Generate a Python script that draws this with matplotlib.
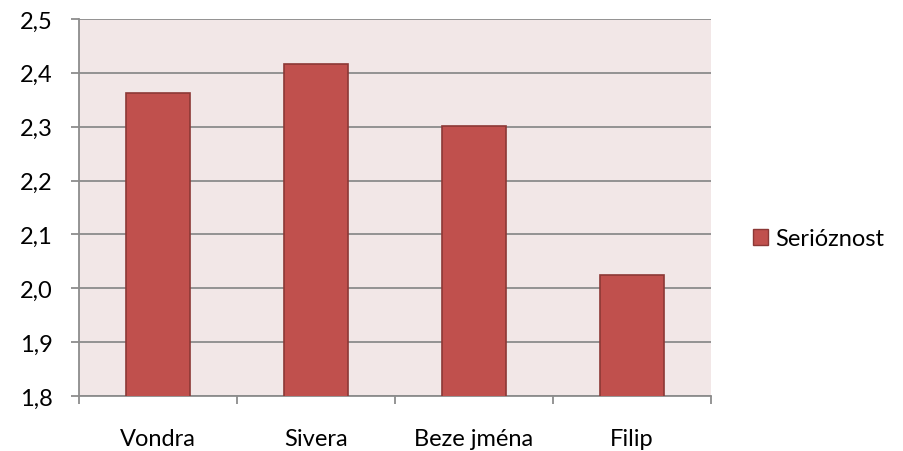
import matplotlib.pyplot as plt
from matplotlib.patches import Patch

categories = ["Vondra", "Sivera", "Beze jména", "Filip"]
values = [2.362, 2.417, 2.302, 2.024]
series_name = "Serióznost"
y_ticks = [1.8, 1.9, 2.0, 2.1, 2.2, 2.3, 2.4, 2.5]

plt.rcParams['font.family'] = ['Lato', 'DejaVu Sans']

fig = plt.figure(figsize=(9.04, 4.52), dpi=100)
ax = fig.add_axes([0.0874, 0.1217, 0.6991, 0.8341])
ax.set_facecolor('#F2E7E7')

x = range(len(categories))
ax.bar(x, values, width=0.4, color='#C0504D', edgecolor='#8C3836',
       linewidth=1.2, zorder=3)
ax.set_ylim(1.8, 2.5)
ax.set_xlim(-0.5, len(categories) - 0.5)

ax.set_yticks(y_ticks)
ax.set_yticklabels([f"{t:.1f}".replace('.', ',') for t in y_ticks], fontsize=17)
ax.yaxis.grid(True, color='#8C8C8C', linewidth=1.3, zorder=0)
ax.set_axisbelow(True)

ax.set_xticks([i - 0.5 for i in range(len(categories) + 1)])
ax.set_xticklabels([])
ax.set_xticks(list(x), minor=True)
ax.set_xticklabels(categories, minor=True, fontsize=17)
ax.tick_params(axis='x', which='minor', length=0, pad=23)
ax.tick_params(axis='x', which='major', length=6, color='#8C8C8C', width=1.3)
ax.tick_params(axis='y', length=6, color='#8C8C8C', width=1.3, pad=13)

for s in ['top', 'right']:
    ax.spines[s].set_visible(False)
for s in ['left', 'bottom']:
    ax.spines[s].set_color('#8C8C8C')
    ax.spines[s].set_linewidth(1.3)

handle = Patch(facecolor='#C0504D', edgecolor='#8C3836', label=series_name)
fig.legend(handles=[handle], loc='center left', bbox_to_anchor=(0.833, 0.47),
           frameon=False, fontsize=17, handlelength=0.65, handleheight=0.65,
           handletextpad=0.3, borderaxespad=0, borderpad=0)

fig.savefig('out.png', dpi=100)
